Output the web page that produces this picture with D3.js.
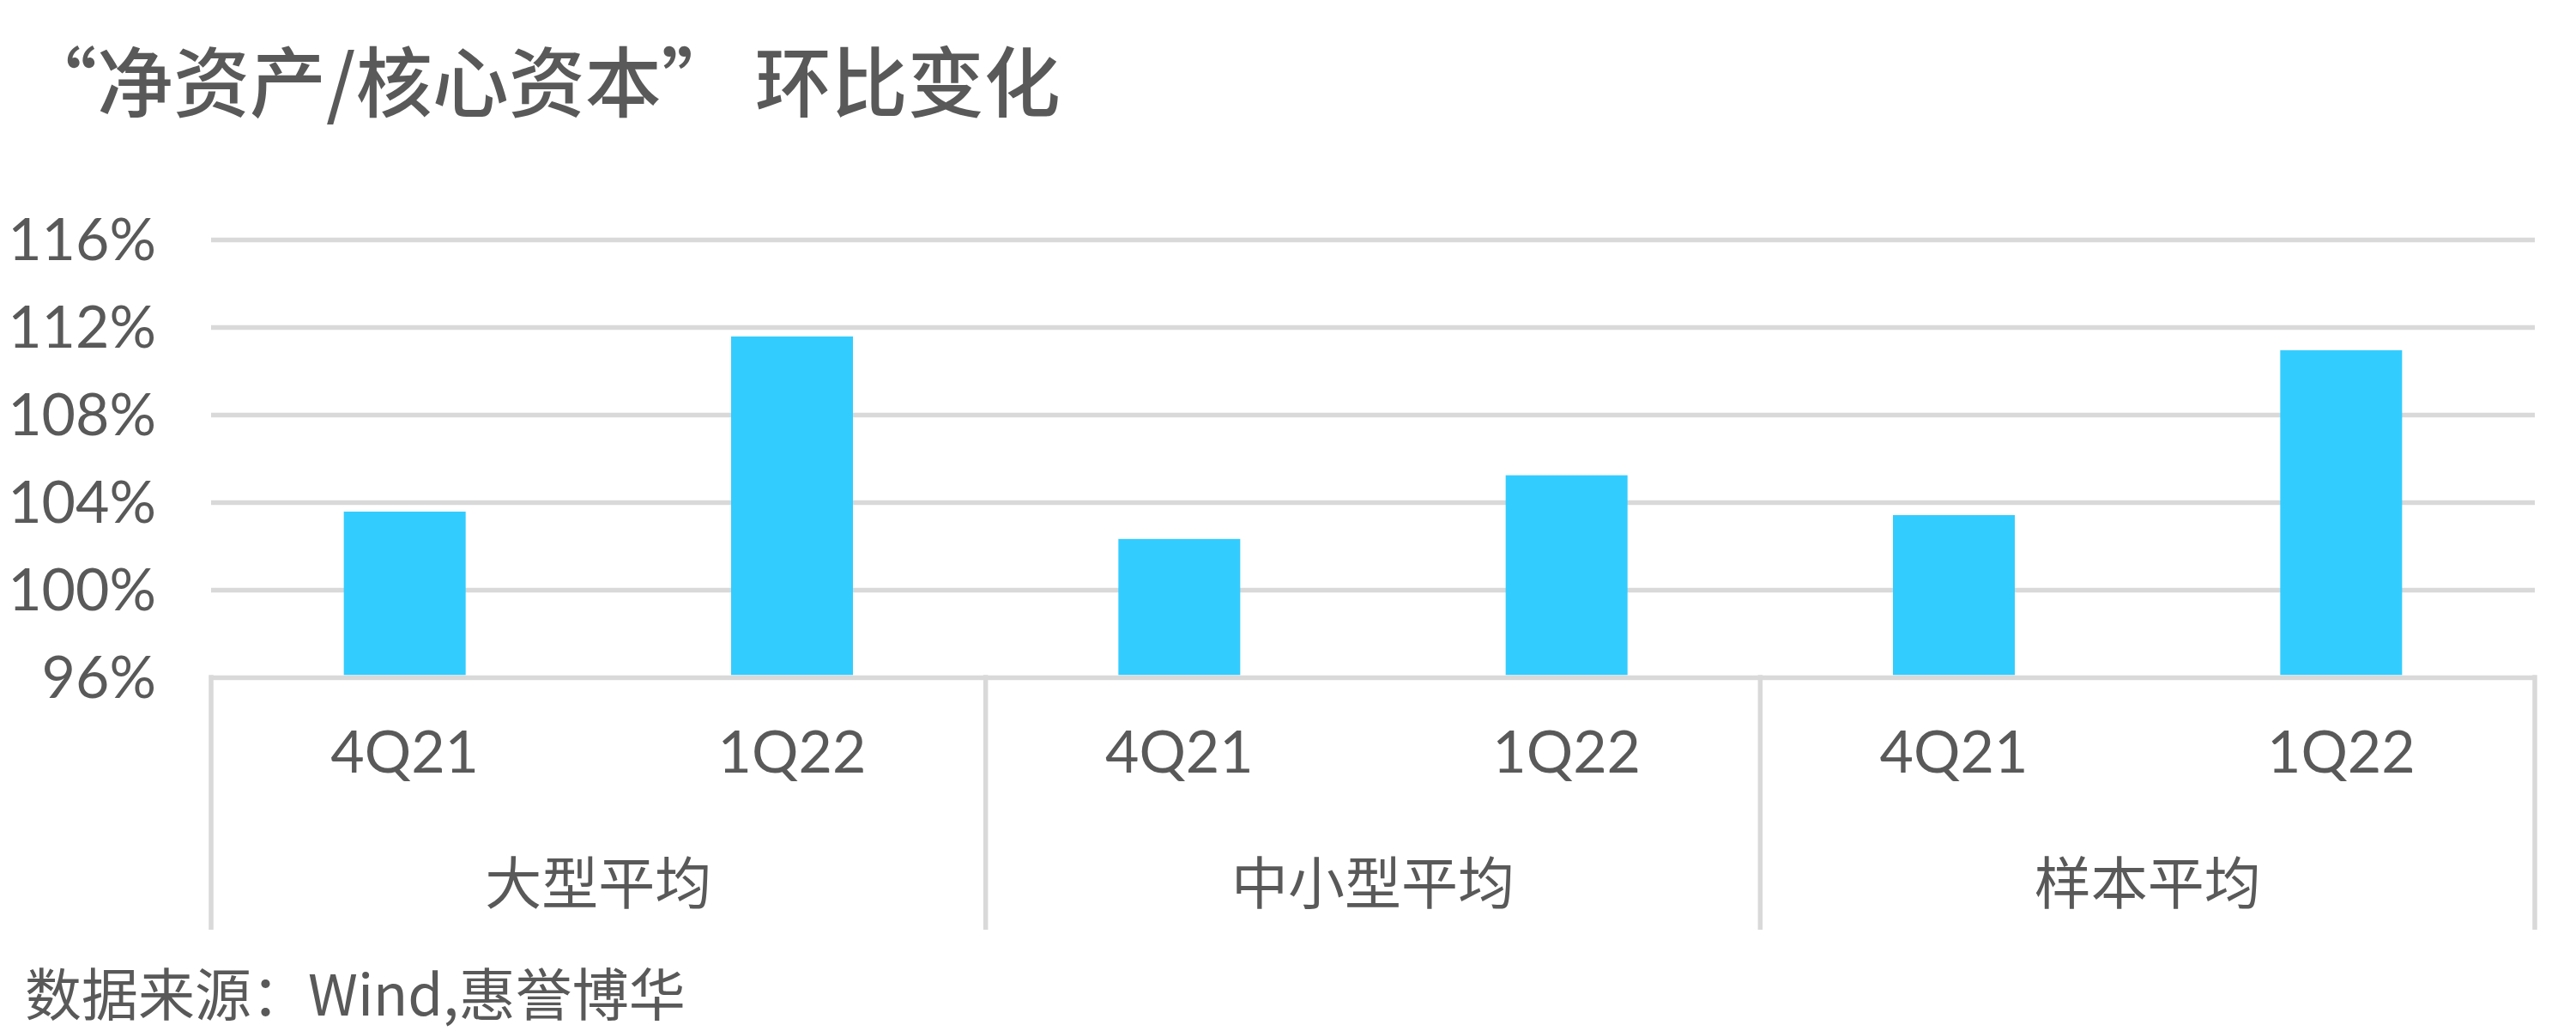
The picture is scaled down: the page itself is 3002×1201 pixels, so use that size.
<!DOCTYPE html>
<html>
<head>
<meta charset="utf-8">
<script src="https://cdn.jsdelivr.net/npm/d3@7"></script>
<style>
  html, body { margin: 0; padding: 0; background: #ffffff; }
  svg { display: block; }
</style>
</head>
<body>
<svg id="chart" width="3002" height="1201"></svg>
<script>
// ---- data ----
const titleText = "“净资产/核心资本” 环比变化";
const sourceText = "数据来源：Wind,惠誉博华";
const groups = ["大型平均", "中小型平均", "样本平均"];
const periods = ["4Q21", "1Q22"];
const values4Q21 = [1.0357, 1.0232, 1.0341];
const values1Q22 = [1.1157, 1.0523, 1.1094];
const yTickValues = [0.96, 1.00, 1.04, 1.08, 1.12, 1.16];
const yTickLabels = ["96%", "100%", "104%", "108%", "112%", "116%"];

(function () {
// ---- build rows ----
const rows = [];
groups.forEach((g, gi) => {
  rows.push({ key: g + "|" + periods[0], group: g, period: periods[0], value: values4Q21[gi] });
  rows.push({ key: g + "|" + periods[1], group: g, period: periods[1], value: values1Q22[gi] });
});

const svg = d3.select("#chart");
const pLeft = 246, pRight = 2954, pTop = 279, pBottom = 789, boxBottom = 1083;
const textColor = "#595959", gridColor = "#d9d9d9", barColor = "#33ccff";

const y = d3.scaleLinear().domain([0.96, 1.16]).range([pBottom, pTop]);
const pad = 1 - 142 / ((pRight - pLeft) / rows.length);
const x = d3.scaleBand().domain(rows.map(d => d.key)).range([pLeft, pRight])
  .paddingInner(pad).paddingOuter(pad / 2);
const xg = d3.scaleBand().domain(groups).range([pLeft, pRight]).padding(0);

// title
svg.append("text")
  .attr("x", 24).attr("y", 90)
  .attr("dominant-baseline", "central")
  .attr("font-family", "'Noto Sans CJK SC', sans-serif")
  .attr("font-size", 89).attr("font-weight", 500)
  .attr("fill", textColor)
  .text(titleText);

// gridlines via axis
const yAxis = d3.axisLeft(y).tickValues(yTickValues)
  .tickSize(-(pRight - pLeft))
  .tickFormat((d, i) => yTickLabels[i]);
const gy = svg.append("g").attr("transform", `translate(${pLeft},0)`).call(yAxis);
gy.select(".domain").remove();
gy.selectAll(".tick line").attr("stroke", gridColor).attr("stroke-width", 5.5);
gy.selectAll(".tick text")
  .attr("x", 182 - pLeft).attr("dy", "0.35em")
  .attr("text-anchor", "end")
  .attr("font-family", "Lato, sans-serif").attr("font-size", 68)
  .attr("fill", textColor);

// bars
svg.append("g").selectAll("rect").data(rows).join("rect")
  .attr("x", d => x(d.key))
  .attr("width", x.bandwidth())
  .attr("y", d => y(d.value))
  .attr("height", d => y(0.96) - y(d.value) - 2.75)
  .attr("fill", barColor);

// category box vertical lines
const seps = groups.map(g => xg(g)).concat([xg(groups[groups.length - 1]) + xg.bandwidth()]);
svg.append("g").selectAll("line").data(seps).join("line")
  .attr("x1", d => d).attr("x2", d => d)
  .attr("y1", y(0.96) - 2.75).attr("y2", boxBottom)
  .attr("stroke", gridColor).attr("stroke-width", 5.5);

// period labels
svg.append("g").selectAll("text").data(rows).join("text")
  .attr("x", d => x(d.key) + x.bandwidth() / 2)
  .attr("y", 900)
  .attr("text-anchor", "middle")
  .attr("font-family", "Lato, sans-serif").attr("font-size", 68)
  .attr("fill", textColor)
  .text(d => d.period);

// group labels
svg.append("g").selectAll("text").data(groups).join("text")
  .attr("x", d => xg(d) + xg.bandwidth() / 2)
  .attr("y", 1024)
  .attr("dominant-baseline", "central")
  .attr("text-anchor", "middle")
  .attr("font-family", "'Noto Sans CJK SC', sans-serif").attr("font-size", 66)
  .attr("fill", textColor)
  .text(d => d);

// source
svg.append("text")
  .attr("x", 29).attr("y", 1154)
  .attr("dominant-baseline", "central")
  .attr("font-family", "'Noto Sans CJK SC', sans-serif").attr("font-size", 66)
  .attr("fill", textColor)
  .text(sourceText);
})();
</script>
</body>
</html>
